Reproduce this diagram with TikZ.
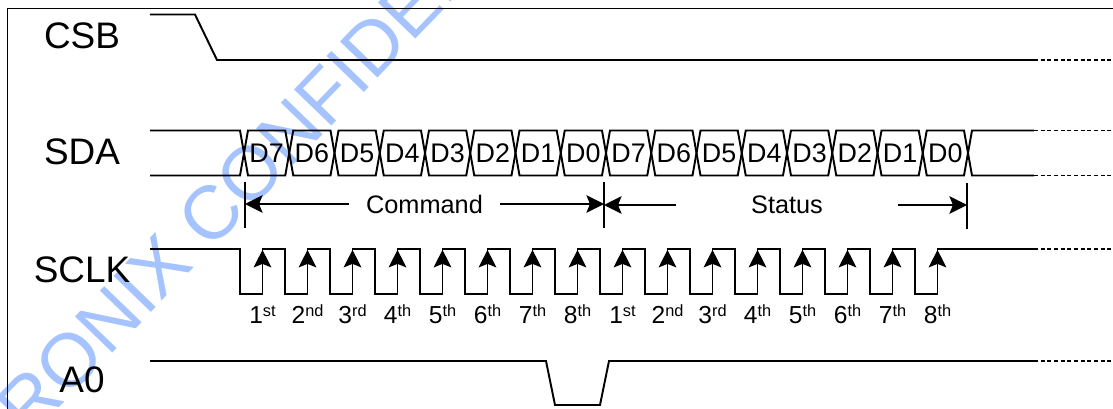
\documentclass[tikz,border=0pt]{standalone}
\usepackage{fontspec}
\setmainfont{Liberation Sans}
\usepackage{xcolor}
\usepackage{tikz}
\usetikzlibrary{arrows.meta}
\definecolor{wmark}{RGB}{165,195,255}

\begin{document}
\begin{tikzpicture}[x=0.02cm, y=-0.02cm,
    wave/.style={line width=1.1pt, line join=miter},
    tail/.style={line width=1.1pt, dash pattern=on 2.3pt off 1.5pt},
    tip/.style={line width=1.1pt, -{Stealth[length=10pt, width=10pt, inset=2pt]}},
    signame/.style={font=\fontsize{21}{25}\selectfont},
    bitlbl/.style={font=\fontsize{15.3}{18}\selectfont, inner sep=0pt},
    ordlbl/.style={font=\fontsize{14}{16}\selectfont, inner sep=0pt, anchor=base},
    spanlbl/.style={font=\fontsize{14.4}{17}\selectfont, inner ysep=0pt}]
    \useasboundingbox (0,0) rectangle (1113,409);

    % watermark
    \node[rotate=46, text=wmark, font=\fontsize{43}{50}\selectfont] (wm) at (253,170) {SITRONIX CONFIDENTIAL};

    \draw[line width=1.1pt] (7.5,409) -- (7.5,8.5) -- (1113,8.5);

    \node[signame] (csb) at (82,36) {CSB};
    \node[signame] (sda) at (82,152) {SDA};
    \node[signame] (sclk) at (82,269.5) {SCLK};
    \node[signame] (azero) at (82,380) {A0};

    % CSB
    \draw[wave] (150,14.5) -- (195,14.5) -- (217,60) -- (1034,60);
    \draw[tail] (1034,60) -- (1113,60);

    % SDA
    \draw[wave] (150,130.5) -- (240,130.5) -- (244,153) -- (240,175.5) -- (150,175.5);
    \foreach \lbl [count=\k from 0] in {D7,D6,D5,D4,D3,D2,D1,D0,D7,D6,D5,D4,D3,D2,D1,D0} {
      \draw[wave] ({244+45.25*\k},153) -- ({248+45.25*\k},130.5) -- ({285.25+45.25*\k},130.5)
        -- ({289.25+45.25*\k},153) -- ({285.25+45.25*\k},175.5) -- ({248+45.25*\k},175.5) -- cycle;
      \node[bitlbl] (d\k) at ({266.6+45.25*\k},153) {\lbl};
    }
    \draw[wave] (1034,130.5) -- (972,130.5) -- (968,153) -- (972,175.5) -- (1034,175.5);
    \draw[tail] (1034,130.5) -- (1113,130.5);
    \draw[tail] (1034,175.5) -- (1113,175.5);

    % Command / Status
    \draw[wave] (245,182) -- (245,228);
    \draw[wave] (604,182) -- (604,228);
    \draw[wave] (967,183) -- (967,229);
    \coordinate (barA) at (245,204);
    \coordinate (barB) at (604,204);
    \coordinate (barC) at (967,205);
    \node[spanlbl, inner xsep=0.34cm] (cmd) at (424.5,204) {Command};
    \node[spanlbl, inner xsep=1.5cm] (stat) at (787,205) {Status};
    \draw[tip] (cmd.west) -- (barA);
    \draw[tip] (cmd.east) -- (barB);
    \draw[tip] (stat.west) -- (barB |- stat.west);
    \draw[tip] (stat.east) -- (barC);

    % SCLK
    \draw[wave] (150,249) -- (240,249)
      \foreach \k in {0,...,15} { -- ({240+45*\k},294) -- ({262.5+45*\k},294) -- ({262.5+45*\k},249) -- ({285+45*\k},249) }
      -- (1034,249);
    \draw[tail] (1034,249) -- (1113,249);
    \foreach \k in {0,...,15} {
      \draw[tip] ({262.5+45*\k},294) -- ({262.5+45*\k},249.8);
    }
    \foreach \n/\s [count=\k from 0] in {1/st,2/nd,3/rd,4/th,5/th,6/th,7/th,8/th,1/st,2/nd,3/rd,4/th,5/th,6/th,7/th,8/th} {
      \node[ordlbl] (o\k) at ({262.5+45*\k},323) {\n\raisebox{3.8pt}{\fontsize{9.3}{10}\selectfont\s}};
    }

    % A0
    \draw[wave] (150,361) -- (546,361) -- (555,405) -- (600,405) -- (609,361) -- (1034,361);
    \draw[tail] (1034,361) -- (1113,361);

\end{tikzpicture}
\end{document}
